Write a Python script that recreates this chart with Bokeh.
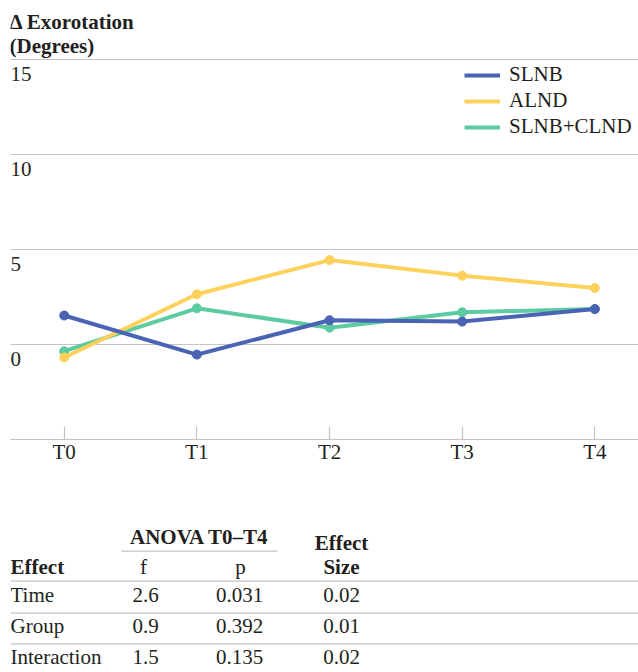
from bokeh.plotting import figure
from bokeh.models import Range1d, FixedTicker, Legend, LegendItem, Label
from bokeh.layouts import column
from bokeh.embed import file_html
from bokeh.resources import INLINE
from bokeh.core.properties import value

# ---------------- data ----------------
time_points = ["T0", "T1", "T2", "T3", "T4"]
series_names = ["SLNB", "ALND", "SLNB+CLND"]
slnb = [1.53, -0.53, 1.28, 1.21, 1.87]
alnd = [-0.68, 2.65, 4.45, 3.63, 2.98]
slnb_clnd = [-0.35, 1.91, 0.89, 1.70, 1.87]
y_ticks = [0, 5, 10, 15]
y_tick_labels = ["0", "5", "10", "15"]

effects = ["Time", "Group", "Interaction"]
f_values = ["2.6", "0.9", "1.5"]
p_values = ["0.031", "0.392", "0.135"]
effect_sizes = ["0.02", "0.01", "0.02"]

# ---------------- style ----------------
FONT = "'Liberation Serif', 'Times New Roman', Times, serif"
FS = "21px"
GRID = "#c4c4c4"
TXT = "#231f20"
COLORS = ["#4b63b5", "#fdd15c", "#5ccba0"]
W = 638
H1 = 480
H2 = 672 - H1
SHIFT = 7  # baseline correction

x_idx = list(range(len(time_points)))
X0, X1 = -0.405, 4.329

p = figure(width=W, height=H1, output_backend="svg", toolbar_location=None,
           x_range=Range1d(X0, X1), y_range=Range1d(-5, 18.12),
           y_axis_location=None,
           min_border_left=10, min_border_right=0, min_border_top=0,
           min_border_bottom=H1 - 439)
p.outline_line_color = None
p.background_fill_color = "white"
p.xgrid.visible = False
p.ygrid.ticker = FixedTicker(ticks=y_ticks)
p.ygrid.grid_line_color = GRID
p.ygrid.grid_line_width = 1.2

ax = p.xaxis[0]
ax.ticker = FixedTicker(ticks=x_idx)
ax.major_label_overrides = {i: t for i, t in enumerate(time_points)}
ax.major_tick_in = 13
ax.major_tick_out = 0
ax.minor_tick_line_color = None
ax.axis_line_color = GRID
ax.axis_line_width = 1.2
ax.major_tick_line_color = GRID
ax.major_tick_line_width = 1.2
ax.major_label_text_font = FONT
ax.major_label_text_font_size = FS
ax.major_label_text_color = TXT
ax.major_label_standoff = 0

# y tick labels drawn inside the plot, below their gridlines
p.text(x=[X0] * len(y_ticks), y=y_ticks, text=y_tick_labels,
       x_offset=0, y_offset=21 - SHIFT, text_font=value(FONT), text_font_size=FS,
       text_color=TXT, text_baseline="alphabetic", text_align="left")

series = [slnb, alnd, slnb_clnd]
renderers = {}
for name, vals, col in reversed(list(zip(series_names, series, COLORS))):
    r = p.line(x_idx, vals, line_color=col, line_width=4)
    p.scatter(x_idx, vals, size=9, fill_color=col, line_color=col)
    renderers[name] = r

legend = Legend(items=[LegendItem(label=n, renderers=[renderers[n]]) for n in series_names],
                location=(454, 300), orientation="vertical",
                glyph_width=36, glyph_height=20, label_height=20, label_standoff=9,
                spacing=1, padding=0, margin=0, border_line_color=None,
                background_fill_alpha=0,
                label_text_font=FONT, label_text_font_size=FS, label_text_color=TXT)
p.add_layout(legend)

p.add_layout(Label(x=-1, y=411 + SHIFT, x_units="screen", y_units="screen", text="Δ Exorotation",
                   text_font=FONT, text_font_style="bold", text_font_size=FS,
                   text_color=TXT, text_baseline="alphabetic"))
p.add_layout(Label(x=-1, y=387 + SHIFT, x_units="screen", y_units="screen", text="(Degrees)",
                   text_font=FONT, text_font_style="bold", text_font_size=FS,
                   text_color=TXT, text_baseline="alphabetic"))

# ---------------- table ----------------
t = figure(width=W, height=H2, output_backend="svg", toolbar_location=None,
           x_range=Range1d(10, W), y_range=Range1d(672, H1),
           x_axis_location=None, y_axis_location=None, min_border=0,
           min_border_left=10)
t.outline_line_color = None
t.xgrid.visible = False
t.ygrid.visible = False

col_effect_x = 10
col_f_x = 145
col_p_x = 239
col_size_x = 341
row_base = [601.7, 632.7, 663.3]
row_lines = [580.7, 612.7, 643.3]

t.segment(x0=[10] * 3, y0=row_lines, x1=[W] * 3, y1=row_lines,
          line_color=GRID, line_width=1.2)
t.segment(x0=[121], y0=[550.7], x1=[277], y1=[550.7], line_color=GRID, line_width=1.2)

common = dict(text_font=value(FONT), text_font_size=FS, text_color=TXT,
              text_baseline="alphabetic")


def ty(vals):
    return [v - SHIFT for v in vals]


# headers
t.text(x=[199, col_size_x, col_size_x], y=ty([543, 549, 573]),
       text=["ANOVA T0–T4", "Effect", "Size"], text_align="center",
       text_font_style="bold", **common)
t.text(x=[col_effect_x], y=ty([573]), text=["Effect"], text_align="left",
       text_font_style="bold", **common)
t.text(x=[143, 240], y=ty([573, 573]), text=["f", "p"], text_align="center", **common)
# rows
t.text(x=[col_effect_x] * 3, y=ty(row_base), text=effects, text_align="left", **common)
t.text(x=[col_f_x] * 3, y=ty(row_base), text=f_values, text_align="center", **common)
t.text(x=[col_p_x] * 3, y=ty(row_base), text=p_values, text_align="center", **common)
t.text(x=[col_size_x] * 3, y=ty(row_base), text=effect_sizes, text_align="center", **common)

layout = column(p, t, spacing=0)
open("out.html", "w").write(file_html(layout, INLINE))
